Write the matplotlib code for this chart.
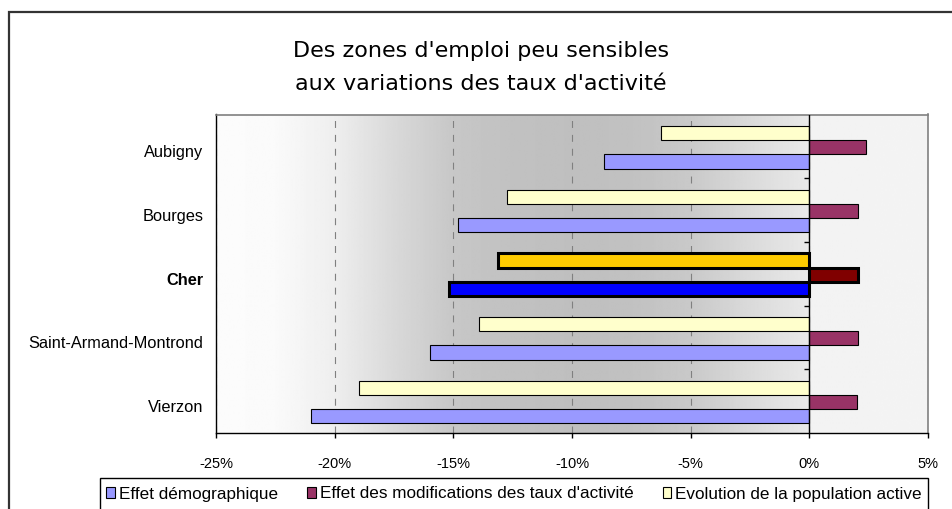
import numpy as np
import matplotlib
matplotlib.use('Agg')
import matplotlib.pyplot as plt
from matplotlib.patches import Rectangle, Patch
import matplotlib.transforms as mtransforms

# ---- data ----
categories = ['Aubigny', 'Bourges', 'Cher', 'Saint-Armand-Montrond', 'Vierzon']
effet_demo = [-8.65, -14.8, -15.2, -16.0, -21.0]
effet_taux = [2.4, 2.05, 2.07, 2.07, 2.02]
evolution = [-6.25, -12.75, -13.13, -13.93, -18.98]
highlight = 'Cher'
xticks = [-25, -20, -15, -10, -5, 0, 5]
series_names = ['Effet démographique',
                "Effet des modifications des taux d'activité",
                'Evolution de la population active']
title_lines = ["Des zones d'emploi peu sensibles", "aux variations des taux d'activité"]

# ---- style ----
plt.rcParams['font.family'] = ['Liberation Sans', 'DejaVu Sans']
plt.rcParams['lines.scale_dashes'] = False
col_norm = ['#9999FF', '#993366', '#FFFFCC']
col_hi = ['#0000FF', '#800000', '#FFCC00']

W, H = 952, 509
fig = plt.figure(figsize=(W / 100, H / 100), dpi=100)
fig.patch.set_facecolor('white')

L, R, T, B = 216, 928, 114.5, 433
ax = fig.add_axes([L / W, (H - B) / H, (R - L) / W, (B - T) / H])

# background gradient (dark in the middle, light at edges)
gx = np.linspace(-25, 5, 600)
gp_x = [-25, -22.5, -20, -17.5, -15, -12.5, -10, -7.5, -5, -2.5, -0.01, 0.01, 5]
gp_v = [252, 250, 238, 217, 199, 193, 191, 193, 201, 218, 233, 242, 244]
prof = np.interp(gx, gp_x, gp_v)
ax.imshow(prof[np.newaxis, :], extent=(-25, 5, len(categories) - 0.5, -0.5),
          aspect='auto', cmap='gray', vmin=0, vmax=255, zorder=0,
          interpolation='bilinear')

h = 0.222
y = np.arange(len(categories))
series = [effet_demo, effet_taux, evolution]
offsets = [h, 0, -h]
for s_idx, (vals, off) in enumerate(zip(series, offsets)):
    for i, cat in enumerate(categories):
        hi = (cat == highlight)
        ax.barh(y[i] + off + 0.015, vals[i], height=h,
                color=(col_hi if hi else col_norm)[s_idx],
                edgecolor='black', linewidth=2.2 if hi else 0.8, zorder=2)

ax.set_xlim(-25, 5)
ax.set_ylim(len(categories) - 0.5, -0.5)

ax.set_xticks(xticks)
ax.set_xticklabels([f'{v}%' for v in xticks])
ax.set_axisbelow(True)
ax.grid(axis='x', color='#808080', linestyle=(0, (5, 5)), linewidth=0.8)
ax.tick_params(axis='x', direction='out', length=3.6, width=1, color='black',
               labelsize=10.5, pad=14)

ax.set_yticks(y)
ax.set_yticklabels(categories)
ax.tick_params(axis='y', length=0, labelsize=11.8, pad=9)
offset = mtransforms.ScaledTranslation(0, -5 / 100, fig.dpi_scale_trans)
for lab, cat in zip(ax.get_yticklabels(), categories):
    lab.set_transform(lab.get_transform() + offset)
    if cat == highlight:
        lab.set_fontweight('bold')

for s in ['top', 'right']:
    ax.spines[s].set_color('#808080')
    ax.spines[s].set_linewidth(1.2)
for s in ['left', 'bottom']:
    ax.spines[s].set_color('black')
    ax.spines[s].set_linewidth(1)

# vertical category axis at 0
ax.axvline(0, color='black', linewidth=1, zorder=3)
ax.plot(np.zeros(len(categories) - 1), y[:-1] + 0.5, linestyle='none',
        marker=0, markersize=3.5, markeredgewidth=1, color='black', zorder=3)

# title
fig.text(481 / W, 1 - 56.7 / H, title_lines[0], ha='center', va='baseline',
         fontsize=16, family='DejaVu Sans', color='black')
fig.text(481 / W, 1 - 90 / H, title_lines[1], ha='center', va='baseline',
         fontsize=16, family='DejaVu Sans', color='black')

# outer frame
fig.patches.append(Rectangle((9 / W, -0.1), 1.2, (H - 12) / H + 0.1,
                             transform=fig.transFigure, fill=False,
                             edgecolor='#333333', linewidth=1.6, clip_on=False))
# legend box
fig.patches.append(Rectangle((100 / W, -0.1), 828 / W, (H - 478) / H + 0.1,
                             transform=fig.transFigure, fill=False,
                             edgecolor='black', linewidth=1, clip_on=False))
handles = [Patch(facecolor=c, edgecolor='black', linewidth=0.8) for c in col_norm]
fig.legend(handles, series_names, loc='center', bbox_to_anchor=(514 / W, 1 - 494 / H),
           ncol=3, frameon=False, fontsize=12.3, handlelength=0.5, handleheight=0.6,
           handletextpad=0.25, columnspacing=1.7, borderaxespad=0, borderpad=0)

fig.savefig('out.png', dpi=100)
